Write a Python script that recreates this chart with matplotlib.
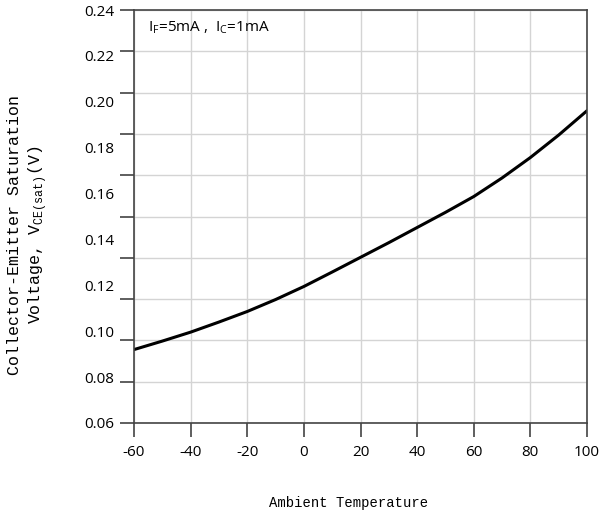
import numpy as np
import matplotlib
matplotlib.use('Agg')
import matplotlib.pyplot as plt

# VCE(sat) vs ambient temperature, IF=5mA, IC=1mA
temp = [-60, -50, -40, -30, -20, -10, 0, 10, 20, 30, 40, 50, 60, 70, 80, 90, 100]
vce_sat = [0.0920, 0.0957, 0.0996, 0.1040, 0.1086, 0.1138, 0.1195, 0.1258, 0.1322,
           0.1386, 0.1452, 0.1518, 0.1587, 0.1668, 0.1757, 0.1855, 0.1961]

x_ticks = [-60, -40, -20, 0, 20, 40, 60, 80, 100]
y_labels = [0.06, 0.08, 0.10, 0.12, 0.14, 0.16, 0.18, 0.20, 0.22, 0.24]
y_min, y_max = 0.06, 0.24

plt.rcParams['font.family'] = ['Open Sans', 'DejaVu Sans']

fig = plt.figure(figsize=(6.05, 5.15), dpi=100)
ax = fig.add_axes([134/605, 1-423/515, (587-134)/605, (423-10)/515])

ax.plot(temp, vce_sat, color='black', lw=2.2, solid_capstyle='round', solid_joinstyle='round')

ax.set_xlim(-60, 100)
ax.set_ylim(y_min, y_max)

# grid ticks: ten equal divisions, labels placed separately
ax.set_xticks(x_ticks)
ax.set_xticklabels([f'{v:g}' for v in x_ticks])
ax.yaxis.remove_overlapping_locs = False
ax.set_yticks(np.linspace(y_min, y_max, 11))
ax.set_yticklabels([])
ax.set_yticks(y_labels, [f'{v:.2f}' for v in y_labels], minor=True)

ax.grid(True, which='major', color='#d4d4d4', lw=1.0)
ax.tick_params(which='major', direction='out', length=10, width=1.1, color='#333333',
               labelsize=11, pad=6)
ax.tick_params(axis='y', which='minor', length=0, pad=14, labelsize=11)
ax.tick_params(axis='x', which='minor', length=0)
for s in ax.spines.values():
    s.set_color('#444444')
    s.set_linewidth(1.2)

ax.text(0.03, 0.958, r'I$_{\mathregular{F}}$=5mA ,  I$_{\mathregular{C}}$=1mA', transform=ax.transAxes,
        fontsize=11, va='center', ha='left')

fig.text(349/605, 1-503/515, 'Ambient Temperature', family='Liberation Mono',
         fontsize=10, ha='center', va='center')
fig.text(28/605, 1-235/515, 'Collector-Emitter Saturation\nVoltage, V$_{\\mathregular{CE(sat)}}$(V)',
         family='Liberation Mono', fontsize=12, rotation=90, ha='center', va='center',
         linespacing=1.25)

fig.savefig('out.png', dpi=100)
